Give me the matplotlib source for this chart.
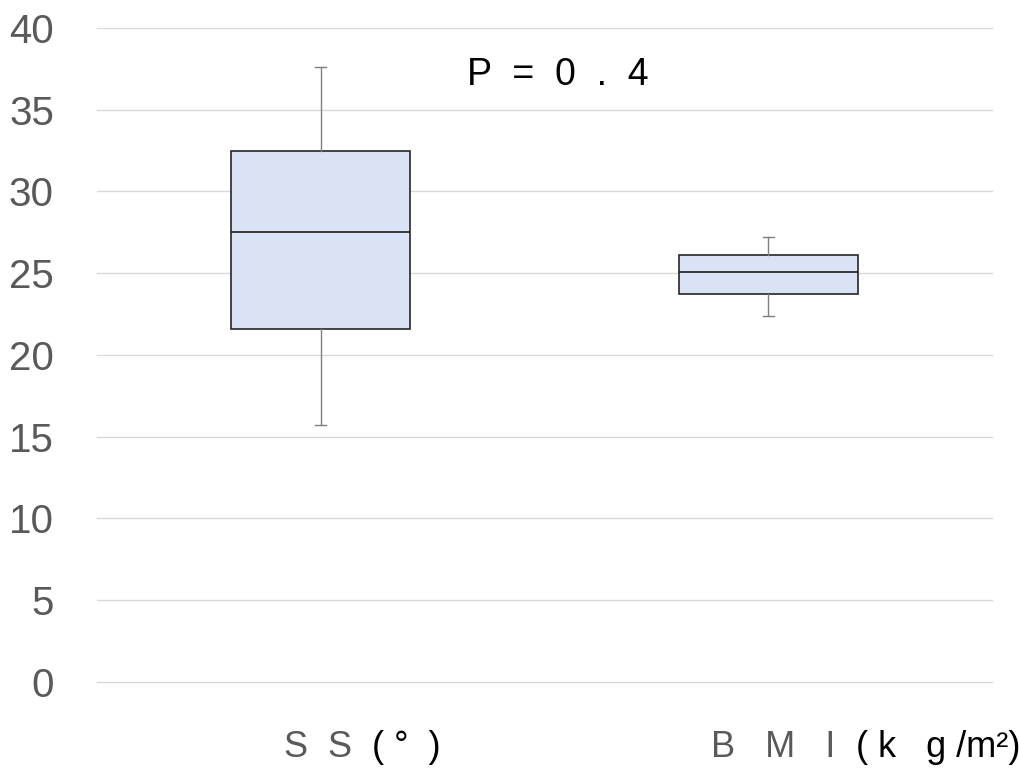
import matplotlib.pyplot as plt

plt.rcParams['font.family'] = ['Liberation Sans', 'DejaVu Sans']

# box statistics
names = ['S  S', 'B   M   I']
units = ['  ( °  )', '  ( k   g /m²)']
whislo = [15.7, 22.4]
q1 = [21.6, 23.7]
med = [27.5, 25.1]
q3 = [32.5, 26.1]
whishi = [37.6, 27.2]
p_text = 'P  =  0  .  4'
yticks = [0, 5, 10, 15, 20, 25, 30, 35, 40]

stats = []
for i in range(len(names)):
    stats.append(dict(whislo=whislo[i], q1=q1[i], med=med[i], q3=q3[i],
                      whishi=whishi[i], fliers=[]))

fig = plt.figure(figsize=(10.2, 7.71), dpi=100)
ax = fig.add_axes([0.095, 0.1155, 0.8775, 0.8482])

ax.bxp(stats, positions=range(len(names)), widths=0.40, capwidths=0.024,
       showfliers=False, patch_artist=True,
       boxprops=dict(facecolor='#dae3f3', edgecolor='#262626', linewidth=1.2),
       medianprops=dict(color='#1a1a1a', linewidth=1.2),
       whiskerprops=dict(color='#7f7f7f', linewidth=1),
       capprops=dict(color='#7f7f7f', linewidth=1), zorder=3)

ax.set_xlim(-0.5, 1.5)
ax.set_ylim(0, 40)
ax.set_yticks(yticks)
ax.yaxis.grid(True, color='#d9d9d9', linewidth=1)
for gl in ax.get_ygridlines():
    gl.set_clip_on(False)
ax.set_axisbelow(True)
ax.tick_params(axis='y', length=0, pad=31, labelsize=29, labelcolor='#595959')
ax.set_xticks([])
for s in ax.spines.values():
    s.set_visible(False)

ax.text(0.53, 36.5, p_text, ha='center', va='baseline', fontsize=27,
        color='black')

# category labels: name in grey, unit in black
tr = ax.get_xaxis_transform()
label_x = [-0.082, 0.873]
for i in range(len(names)):
    t = ax.text(label_x[i], -0.1147, names[i], transform=tr, ha='left',
                va='baseline', fontsize=26, color='#595959')
    ax.annotate(units[i], xy=(1, 0), xycoords=t, ha='left', va='bottom',
                fontsize=26, color='black', annotation_clip=False)

fig.savefig('out.png', dpi=100)
